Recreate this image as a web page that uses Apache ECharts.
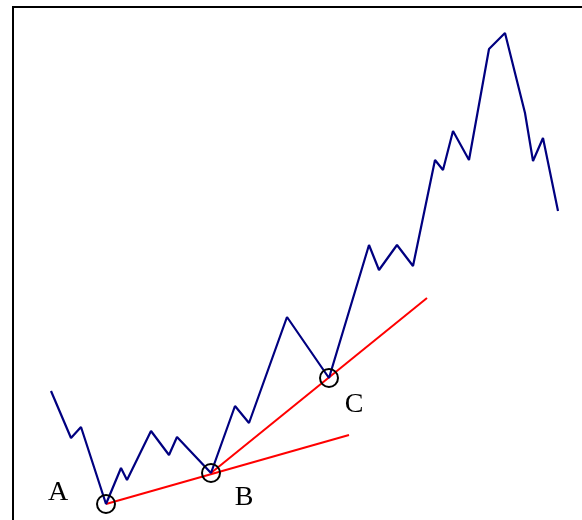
<!DOCTYPE html>
<html>
<head>
<meta charset="utf-8">
<script src="https://cdn.jsdelivr.net/npm/echarts@6/dist/echarts.min.js"></script>
<style>
  html, body { margin: 0; padding: 0; background: #fff; }
  #main { width: 582px; height: 520px; }
</style>
</head>
<body>
<div id="main"></div>
<script>
// price path (x = time, y = price)
var priceX = [38, 58, 68, 93, 108, 114, 138, 156, 164, 198, 222, 236, 274, 316,
              356, 366, 384, 400, 422, 430, 440, 456, 476, 492, 512, 520, 530, 545];
var priceY = [156, 109, 120, 43, 79, 67, 116, 92, 110, 74, 141, 124, 230, 169,
              302, 277, 302, 281, 387, 377, 416, 387, 498, 514, 434, 386, 409, 336];

// pivot lows
var pivotNames = ['A', 'B', 'C'];
var pivotX = [93, 198, 316];
var pivotY = [43, 74, 169];

// trend lines: [start, end]
var trendAB = [[93, 43], [336, 112]];
var trendBC = [[198, 74], [414, 249]];

var labelOffsets = { A: [-48, -11], B: [33, 25], C: [25, 27] };

var myChart = echarts.init(document.getElementById('main'));

var pricePts = priceX.map(function (x, i) { return [x, priceY[i]]; });
var pivots = pivotX.map(function (x, i) {
    return {
        value: [x, pivotY[i]],
        name: pivotNames[i],
        label: { offset: labelOffsets[pivotNames[i]] }
    };
});

var option = {
    animation: false,
    backgroundColor: '#fff',
    grid: {
        show: true,
        left: 13, top: 7, width: 600, height: 540,
        outerBoundsMode: 'none',
        containLabel: false,
        borderColor: '#000', borderWidth: 2,
        backgroundColor: '#fff'
    },
    xAxis: { type: 'value', min: 0, max: 600, show: false },
    yAxis: { type: 'value', min: 0, max: 540, show: false },
    series: [
        {
            type: 'line',
            data: trendAB,
            symbol: 'none',
            lineStyle: { color: '#ff0000', width: 2 },
            z: 2
        },
        {
            type: 'line',
            data: trendBC,
            symbol: 'none',
            lineStyle: { color: '#ff0000', width: 2 },
            z: 2
        },
        {
            type: 'line',
            data: pricePts,
            symbol: 'none',
            lineStyle: { color: '#000080', width: 2.2 },
            z: 3
        },
        {
            type: 'scatter',
            data: pivots,
            symbol: 'circle',
            symbolSize: 18,
            itemStyle: { color: 'rgba(0,0,0,0)', borderColor: '#000', borderWidth: 2, opacity: 1 },
            label: {
                show: true,
                position: 'inside',
                formatter: '{b}',
                color: '#000',
                textBorderWidth: 0,
                fontFamily: 'Liberation Serif',
                fontSize: 28
            },
            z: 4
        }
    ]
};
myChart.setOption(option);
</script>
</body>
</html>
